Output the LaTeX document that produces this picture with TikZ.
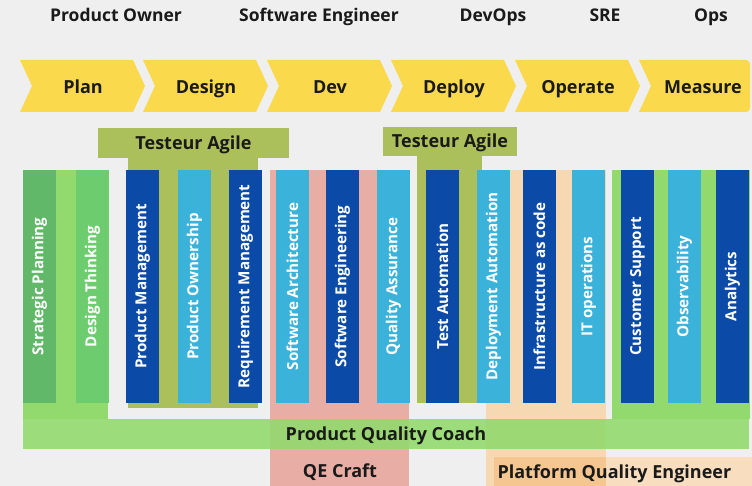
\documentclass[tikz,border=0pt]{standalone}
\usepackage{fontspec}
\setmainfont{Open Sans}
\definecolor{bgc}{HTML}{EFEFEF}
\definecolor{chevc}{HTML}{FAD94C}
\definecolor{olivec}{HTML}{ABBF5B}
\definecolor{dbluec}{HTML}{0B4AA6}
\definecolor{lbluec}{HTML}{3BB2D9}
\definecolor{pinkc}{HTML}{E8AEA5}
\definecolor{peachc}{HTML}{F6D8B3}
\definecolor{peachlc}{HTML}{F8DDBE}
\definecolor{orangec}{HTML}{F5C68F}
\definecolor{lgreenc}{HTML}{93DA6E}
\definecolor{greenac}{HTML}{60B868}
\definecolor{greenbc}{HTML}{6CCC6E}
\definecolor{txtc}{HTML}{1A1A1A}
\begin{document}
\begin{tikzpicture}[x=1pt,y=-1pt,
  title/.style={font=\fontsize{17.5}{20}\selectfont\bfseries, text=txtc, text height=12.5pt, text depth=0pt},
  phase/.style={font=\fontsize{18}{21}\selectfont\bfseries, text=txtc, text height=12.9pt, text depth=0pt},
  label/.style={font=\fontsize{18}{21}\selectfont\bfseries, text=txtc, text height=12.9pt, text depth=0pt},
  barbox/.style={rotate=90, minimum width=233pt, minimum height=33pt, inner sep=0pt,
     font=\fontsize{15.2}{18}\selectfont\bfseries, text=white},
  chev/.style={fill=chevc}]
\useasboundingbox (0,0) rectangle (752,486);
\fill[bgc] (0,0) rectangle (752,486);
% role titles
\node[title] (tpo) at (116,15) {Product Owner};
\node[title] (tse) at (319,15) {Software Engineer};
\node[title] (tdo) at (493,15) {DevOps};
\node[title] (tsre) at (605,15) {SRE};
\node[title] (tops) at (711,15) {Ops};
% chevrons
\foreach \x/\lab/\n in {20/Plan/plan, 143/Design/design, 267/Dev/dev, 391/Deploy/deploy, 515/Operate/operate} {
  \fill[chev] (\x,60) -- ++(113,0) -- ++(12,26) -- ++(-12,26) -- (\x,112) -- ++(12,-26) -- cycle;
  \node[phase] (\n) at (\x+63,87) {\lab};
}
\fill[chev] (639,60) [rounded corners=4pt] -- (750,60) -- (750,112) [sharp corners] -- (639,112) -- (651,86) -- cycle;
\node[phase] (measure) at (703,87) {Measure};
% group backgrounds
\fill[lgreenc] (23,170) rectangle (108,419);
\fill[olivec] (128,158) rectangle (258,408);
\node[fill=olivec, minimum width=191pt, minimum height=30pt, inner sep=0pt, label] (ta1) at (193.5,143) {Testeur Agile};
\fill[pinkc] (270,170) rectangle (409,486);
\fill[olivec] (417,156) rectangle (482,403);
\node[fill=olivec, minimum width=134pt, minimum height=29pt, inner sep=0pt, label] (ta2) at (450,141.5) {Testeur Agile};
\fill[peachc] (486,170) rectangle (606,486);
\fill[lgreenc] (612,170) rectangle (750,419);
% bars
\foreach \x/\c/\t/\n in {
  23/greenac/Strategic Planning/b1,
  76/greenbc/Design Thinking/b2,
  126/dbluec/Product Management/b3,
  178/lbluec/Product Ownership/b4,
  229/dbluec/Requirement Management/b5,
  276/lbluec/Software Architecture/b6,
  326/dbluec/Software Engineering/b7,
  377/lbluec/Quality Assurance/b8,
  426/dbluec/Test Automation/b9,
  477/lbluec/Deployment Automation/b10,
  523/dbluec/Infrastructure as code/b11,
  572/lbluec/IT operations/b12,
  621/dbluec/Customer Support/b13,
  668/lbluec/Observability/b14,
  716/dbluec/Analytics/b15} {
  \node[barbox, fill=\c] (\n) at (\x+16.5,286.5) {\t};
}
% bottom bands
\node[fill=lgreenc, fill opacity=0.9, text opacity=1, minimum width=726pt, minimum height=30pt, inner sep=0pt, label] (pqc) at (386,434) {Product Quality Coach};
\node[label] (qec) at (340,471) {QE Craft};
\fill[peachlc] (494,457) rectangle (752,486);
\fill[orangec] (494,457) rectangle (606,486);
\node[label, anchor=west] (pqe) at (494,472) {Platform Quality Engineer};
\end{tikzpicture}
\end{document}
